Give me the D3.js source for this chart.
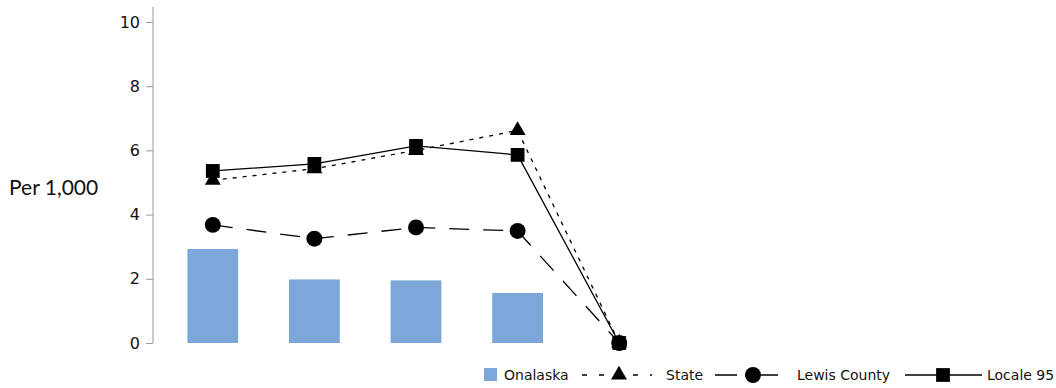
<!DOCTYPE html>
<html><head><meta charset="utf-8">
<script src="https://cdn.jsdelivr.net/npm/d3@7"></script>
<style>body{margin:0;background:#fff}</style>
</head><body>
<svg id="c" width="1056" height="388"></svg>
<script>
const categories = ["A", "B", "C", "D", "E"];
const onalaska = [2.93, 1.98, 1.95, 1.56, null];
const state = [5.07, 5.43, 6.0, 6.62, 0];
const lewis = [3.68, 3.25, 3.6, 3.49, 0];
const locale95 = [5.36, 5.58, 6.14, 5.86, 0];
const yTicks = [0, 2, 4, 6, 8, 10];

const svg = d3.select("#c");
const x = d3.scaleBand().domain(categories).range([162, 670]).paddingInner(0.5).paddingOuter(0.25);
const xc = d => x(d) + x.bandwidth() / 2;
const y = d3.scaleLinear().domain([0, 10]).range([343, 22]);

// y axis
const ax = svg.append("g").attr("transform", "translate(153,0)")
  .call(d3.axisLeft(y).tickValues(yTicks).tickSize(7).tickPadding(6));
ax.select(".domain").attr("stroke", "#999").attr("d", "M0," + 7 + "V" + y(0));
ax.selectAll(".tick line").attr("stroke", "#999");
ax.selectAll("text").attr("font-family", "DejaVu Sans").attr("font-size", 16).attr("fill", "#111");

svg.append("text").attr("x", 9).attr("y", 195).text("Per 1,000")
  .attr("font-family", "Lato").attr("font-size", 21).attr("fill", "#111");

// bars
svg.append("g").selectAll("rect").data(categories.map((c, i) => [c, onalaska[i]]).filter(d => d[1] != null))
  .join("rect").attr("x", d => x(d[0])).attr("width", x.bandwidth())
  .attr("y", d => y(d[1])).attr("height", d => y(0) - y(d[1])).attr("fill", "#7da7d9");

const line = d3.line().x(d => xc(d[0])).y(d => y(d[1]));
function series(vals, dash, shape) {
  const pts = categories.map((c, i) => [c, vals[i]]);
  svg.append("path").attr("d", line(pts)).attr("fill", "none").attr("stroke", "#000")
    .attr("stroke-width", 1.3).attr("stroke-dasharray", dash);
  svg.append("g").selectAll("path").data(pts).join("path")
    .attr("transform", d => `translate(${xc(d[0])},${y(d[1])})`)
    .attr("d", shape).attr("fill", "#000");
}
const tri = d3.symbol(d3.symbolTriangle, 110)();
const circ = d3.symbol(d3.symbolCircle, 200)();
const sq = d3.symbol(d3.symbolSquare, 190)();
series(state, "4,6", tri);
series(lewis, "20,14", circ);
series(locale95, null, sq);

// legend
const lg = svg.append("g").attr("font-family", "DejaVu Sans").attr("font-size", 14).attr("fill", "#111");
lg.append("rect").attr("x", 484).attr("y", 368).attr("width", 13).attr("height", 13).attr("fill", "#7da7d9");
lg.append("text").attr("x", 504).attr("y", 380).text("Onalaska");
function legItem(x0, x1, cx, dash, shape, tx, label) {
  lg.append("line").attr("x1", x0).attr("x2", x1).attr("y1", 375).attr("y2", 375)
    .attr("stroke", "#000").attr("stroke-width", 1.3).attr("stroke-dasharray", dash);
  lg.append("path").attr("transform", `translate(${cx},375)`).attr("d", shape).attr("fill", "#000");
  lg.append("text").attr("x", tx).attr("y", 380).text(label);
}
legItem(582, 652, 619, "5,12", tri, 666, "State");
legItem(715, 778, 753, "22,8,40", circ, 797, "Lewis County");
legItem(905, 982, 943, null, sq, 987, "Locale 95");
</script>
</body></html>
